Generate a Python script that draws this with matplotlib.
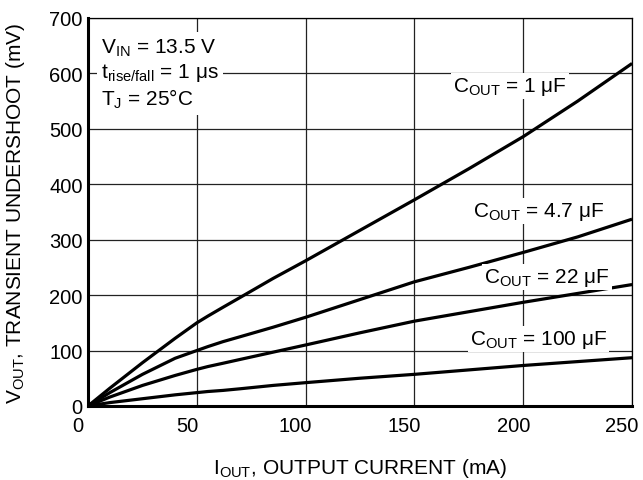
import matplotlib.pyplot as plt
from matplotlib.transforms import ScaledTranslation

plt.rcParams['font.family'] = ['Liberation Sans', 'DejaVu Sans']

# output current (mA)
i_out = [0, 10, 25, 40, 50, 55, 62, 70, 85, 100, 125, 150, 175, 200, 225, 250]

# transient undershoot (mV) per output capacitor
c1 = [0, 32, 78, 122, 150, 162, 178, 196, 230, 262, 317, 372, 428, 486, 550, 618]
c4_7 = [0, 24, 57, 86, 100, 107, 116, 125, 142, 160, 192, 224, 250, 277, 305, 337]
c22 = [0, 16, 37, 55, 66, 71, 77, 84, 97, 110, 132, 153, 170, 187, 203, 219]
c100 = [0, 6, 13, 20, 24, 26, 28, 31, 37, 42, 50, 57, 65, 73, 80, 87]

labels = ['C$_{\\mathregular{OUT}}$ = 1 \u03bcF', 'C$_{\\mathregular{OUT}}$ = 4.7 \u03bcF',
          'C$_{\\mathregular{OUT}}$ = 22 \u03bcF', 'C$_{\\mathregular{OUT}}$ = 100 \u03bcF']
label_pos = [(194, 577), (207, 351), (211, 232), (207, 121)]

fig = plt.figure(figsize=(6.43, 4.81), dpi=100)
ax = fig.add_axes([0.137, 0.154, 0.846, 0.8065])

for ys in (c1, c4_7, c22, c100):
    ax.plot(i_out, ys, color='black', lw=2.3, solid_capstyle='butt', zorder=3)

ax.set_xlim(0, 250)
ax.set_ylim(0, 700)
ax.set_xticks(range(0, 251, 50))
ax.set_yticks(range(0, 701, 100))
ax.grid(True, color='#222222', lw=0.9)
ax.tick_params(length=0, labelsize=14.5)
ax.tick_params(axis='x', pad=7)
ax.tick_params(axis='y', pad=4)

# tick labels sit a little left of the grid lines in the original
shift = ScaledTranslation(-10 / 100, 0, fig.dpi_scale_trans)
for lab in ax.get_xticklabels():
    lab.set_transform(lab.get_transform() + shift)

for side in ('left', 'bottom'):
    ax.spines[side].set_linewidth(2.2)
for side in ('top', 'right'):
    ax.spines[side].set_linewidth(0.9)

for txt, (x, y) in zip(labels, label_pos):
    ax.text(x, y, txt, ha='center', va='center', fontsize=15, zorder=4,
            bbox=dict(facecolor='white', edgecolor='none', pad=1.5))

ax.text(6, 600, 'V$_{\\mathregular{IN}}$ = 13.5 V\n'
        't$_{\\mathregular{rise/fall}}$ = 1 \u03bcs\n'
        'T$_{\\mathregular{J}}$ = 25\u00b0C',
        ha='left', va='center', fontsize=15, linespacing=1.2, zorder=4,
        bbox=dict(facecolor='white', edgecolor='none', pad=3))

ax.set_xlabel('I$_{\\mathregular{OUT}}$, OUTPUT CURRENT (mA)', fontsize=15)
ax.xaxis.set_label_coords(0.5, -0.13)
ax.set_ylabel('V$_{\\mathregular{OUT}}$, TRANSIENT UNDERSHOOT (mV)', fontsize=15)
ax.yaxis.set_label_coords(-0.112, 0.5)

fig.savefig('out.png', dpi=100)
